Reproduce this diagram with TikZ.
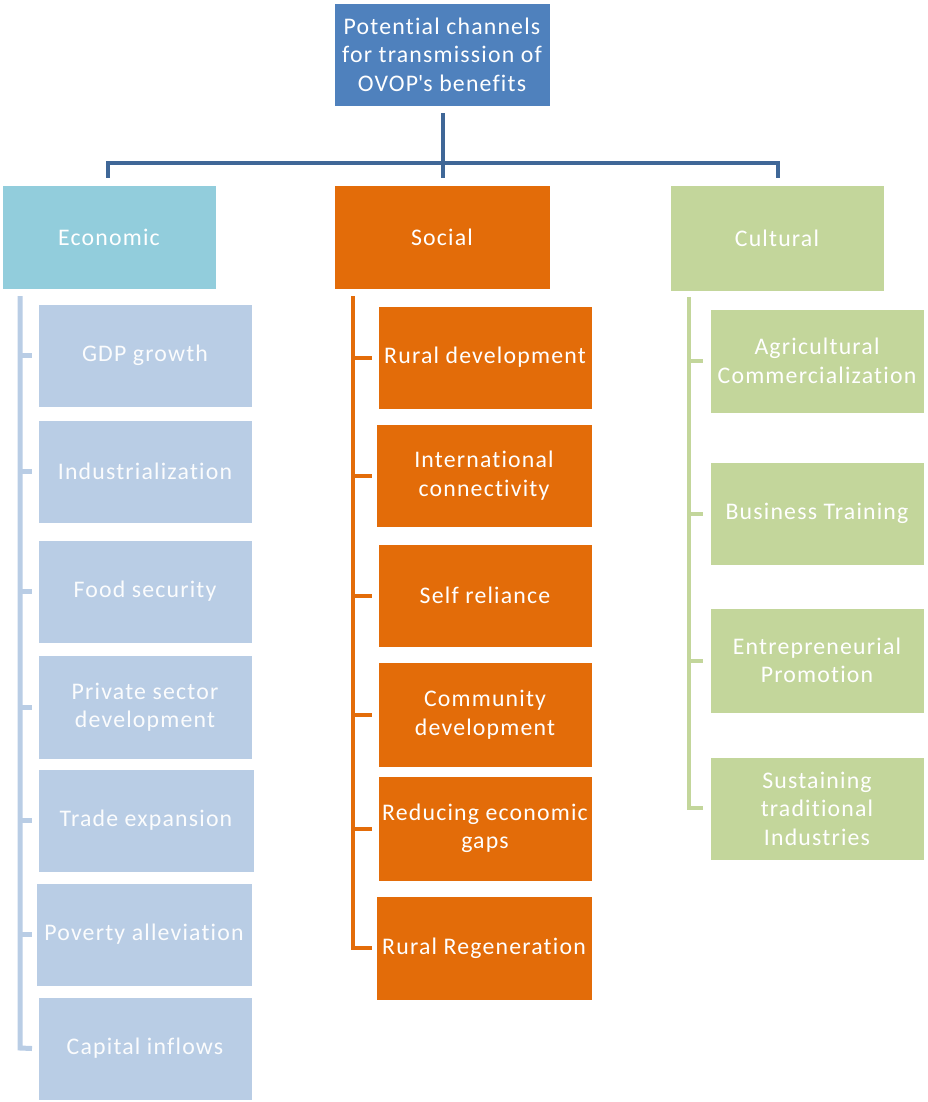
\documentclass[tikz,border=0pt]{standalone}
\usepackage{fontspec}
\setmainfont{Carlito}[LetterSpace=5,Ligatures={NoCommon}]
\definecolor{topblue}{HTML}{4F81BD}
\definecolor{linkblue}{HTML}{3F6797}
\definecolor{econ}{HTML}{92CDDC}
\definecolor{econkid}{HTML}{B9CDE5}
\definecolor{soc}{HTML}{E36C09}
\definecolor{cult}{HTML}{C3D69B}
\begin{document}
\begin{tikzpicture}[x=1pt,y=-1pt,
  box/.style={draw=white,line width=0.6pt,inner sep=0pt,text=white,align=center,font=\fontsize{23.8}{28.5}\selectfont},
  topbox/.style={box,fill=topblue},
  econbox/.style={box,fill=econ},
  ekid/.style={box,fill=econkid,text=white!94!econkid},
  sbox/.style={box,fill=soc},
  cbox/.style={box,fill=cult},
  trunk/.style={line width=4.5pt,draw=linkblue},
  eline/.style={line width=5pt,draw=econkid},
  sline/.style={line width=4pt,draw=soc},
  cline/.style={line width=4pt,draw=cult}
]
\useasboundingbox (0,0) rectangle (927,1102);
\newcommand{\bx}[6]{\node[#1,minimum width=#4-#3,minimum height=#6-#5] (#2) at ({(#3+#4)/2},{(#5+#6)/2})}
% top
\bx{topbox}{top}{334}{550}{3}{106}{Potential channels\\for transmission of\\OVOP\textquotesingle s benefits};
% categories
\bx{econbox}{eco}{2}{216}{185}{289}{Economic};
\bx{sbox}{soc}{334}{550}{185}{289}{Social};
\bx{cbox}{cul}{670}{884}{185}{291}{Cultural};
% trunk
\coordinate (hb) at (443,163);
\coordinate (hl) at (108,163);
\coordinate (hr) at (778,163);
\draw[trunk] (top.south -| hb) ++(0,7) -- (443,178);
\draw[trunk] (108,178) -- (hl) -- (hr) -- (778,178);
% economic children
\bx{ekid}{e1}{38}{252}{304}{407}{GDP growth};
\bx{ekid}{e2}{38}{252}{420}{523}{Industrialization};
\bx{ekid}{e3}{38}{252}{540}{643}{Food security};
\bx{ekid}{e4}{38}{252}{655}{759}{Private sector\\development};
\bx{ekid}{e5}{38}{254}{769}{872}{Trade expansion};
\bx{ekid}{e6}{36}{252}{883}{986}{Poverty alleviation};
\bx{ekid}{e7}{38}{252}{997}{1100}{Capital inflows};
\coordinate (etop) at (20,296);
\draw[eline] (etop) -- (20,1048) -- (e7.west -| 32,0) ;
\foreach \n in {e1,e2,e3,e4,e5,e6} \draw[eline] (20,0 |- \n.west) -- (32,0 |- \n.west);
% social children
\bx{sbox}{s1}{378}{592}{306}{409}{Rural development};
\bx{sbox}{s2}{376}{592}{424}{527}{International\\connectivity};
\bx{sbox}{s3}{378}{592}{544}{647}{Self reliance};
\bx{sbox}{s4}{378}{592}{662}{767}{Community\\development};
\bx{sbox}{s5}{378}{592}{776}{881}{Reducing economic\\gaps};
\bx{sbox}{s6}{376}{592}{896}{1000}{Rural Regeneration};
\draw[sline] (353,296) -- (353,0 |- s6.west) -- (372,0 |- s6.west);
\foreach \n in {s1,s2,s3,s4,s5} \draw[sline] (353,0 |- \n.west) -- (372,0 |- \n.west);
% cultural children
\bx{cbox}{c1}{710}{924}{309}{413}{Agricultural\\Commercialization};
\bx{cbox}{c2}{710}{924}{462}{565}{Business Training};
\bx{cbox}{c3}{710}{924}{608}{713}{Entrepreneurial\\Promotion};
\bx{cbox}{c4}{710}{924}{757}{860}{Sustaining\\traditional\\Industries};
\draw[cline] (689,297) -- (689,808) -- (703,808);
\foreach \n in {c1,c2,c3} \draw[cline] (689,0 |- \n.west) -- (703,0 |- \n.west);
\end{tikzpicture}
\end{document}
